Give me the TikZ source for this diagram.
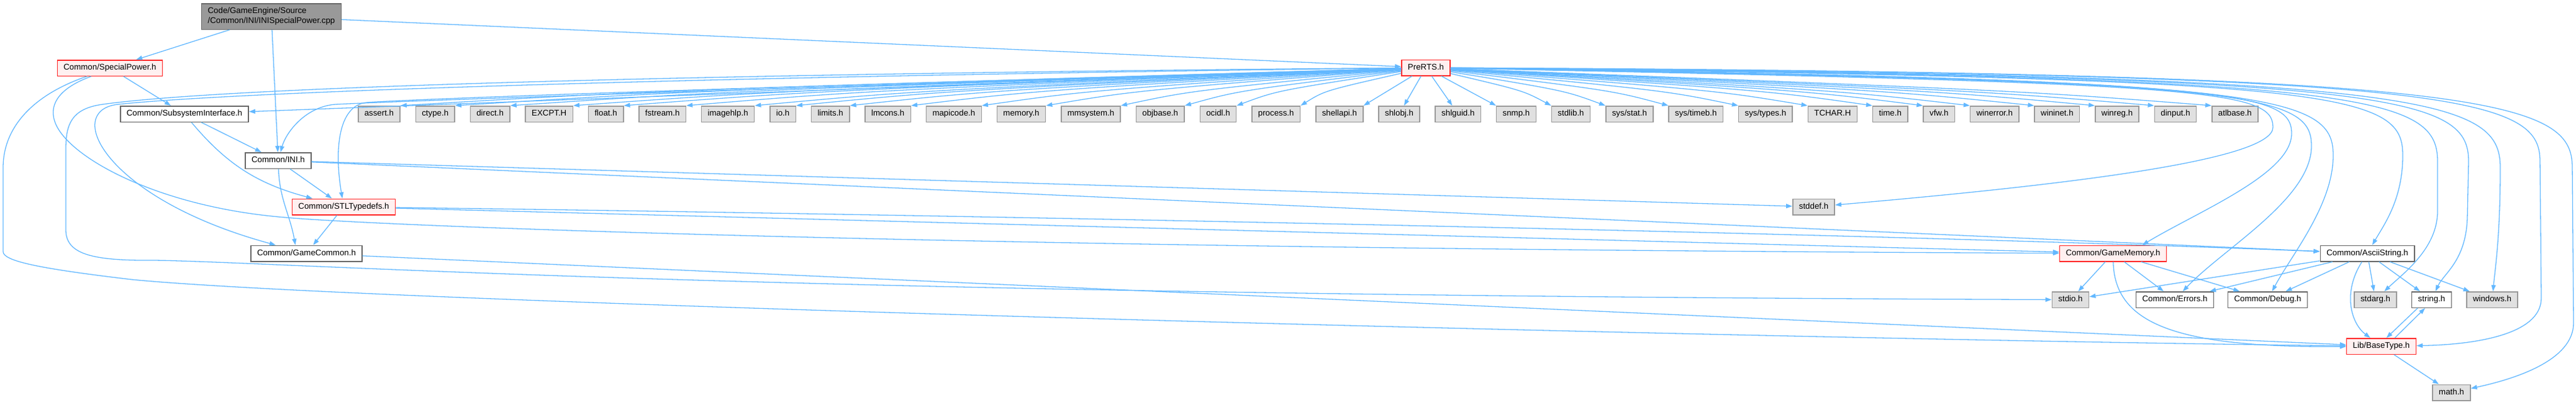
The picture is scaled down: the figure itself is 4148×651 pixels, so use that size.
\documentclass[tikz,border=0pt]{standalone}
\usepackage{fontspec}
\setmainfont{Liberation Sans}
\usetikzlibrary{positioning, arrows.meta}
\definecolor{edgeblue}{HTML}{63B8FF}
\definecolor{mainline}{HTML}{666666}
\definecolor{sysline}{HTML}{999999}
\definecolor{sysfill}{HTML}{E0E0E0}
\definecolor{hotline}{HTML}{FF2626}
\definecolor{hotfill}{HTML}{FFF0F0}
\definecolor{srcfill}{HTML}{999999}

\begin{document}
\begin{tikzpicture}[x=1pt, y=-1pt, node distance={23.7pt}, line width=1.3pt,
		box/.style = {draw, rectangle, line width=1.5pt, inner xsep=10pt, font=\fontsize{13.3}{16}\selectfont},
		main/.style = {box, draw=mainline, fill=white, minimum height=25.5pt, text height=9.6pt, text depth=2.8pt},
		sys/.style = {main, draw=sysline, fill=sysfill},
		hot/.style = {main, draw=hotline, fill=hotfill},
		src/.style = {box, draw=mainline, fill=srcfill, align=left, minimum height=41.5pt},
		dep/.style = {draw=edgeblue, line width=1.3pt, -{Triangle[length=10pt, width=7pt]}}]
		\useasboundingbox (0,0) rectangle (4148,651);
		\node[src] (1) at (437,26.5) {Code/GameEngine/Source\\/Common/INI/INISpecialPower.cpp};
		\node[hot] (2) at (177,109.5) {Common/SpecialPower.h};
		\node[hot] (3) at (2296,109) {PreRTS.h};
		\node[main] (4) at (297,183.5) {Common/SubsystemInterface.h};
		\node[main] (5) at (448,258.5) {Common/INI.h};
		\node[hot] (6) at (553.5,333) {Common/STLTypedefs.h};
		\node[main] (7) at (493.5,408) {Common/GameCommon.h};
		\node[sys] (8) at (2920.5,333) {stddef.h};
		\node[hot] (9) at (3402.5,408) {Common/GameMemory.h};
		\node[main] (10) at (3812,408) {Common/AsciiString.h};
		\node[sys] (11) at (3334,482.5) {stdio.h};
		\node[main] (12) at (3502,482.5) {Common/Errors.h};
		\node[main] (13) at (3651.5,482.5) {Common/Debug.h};
		\node[sys] (14) at (3825,482.5) {stdarg.h};
		\node[main] (15) at (3915.5,482.5) {string.h};
		\node[sys] (16) at (4013,482.5) {windows.h};
		\node[hot] (17) at (3834.5,557.5) {Lib/BaseType.h};
		\node[sys] (18) at (3947.5,632) {math.h};
		\node[sys, anchor=west] (19) at (576,183.5) {assert.h};
		\node[sys] (20) [right=of 19] {ctype.h};
		\node[sys] (21) [right=of 20] {direct.h};
		\node[sys] (22) [right=of 21] {EXCPT.H};
		\node[sys] (23) [right=of 22] {float.h};
		\node[sys] (24) [right=of 23] {fstream.h};
		\node[sys] (25) [right=of 24] {imagehlp.h};
		\node[sys] (26) [right=of 25] {io.h};
		\node[sys] (27) [right=of 26] {limits.h};
		\node[sys] (28) [right=of 27] {lmcons.h};
		\node[sys] (29) [right=of 28] {mapicode.h};
		\node[sys] (30) [right=of 29] {memory.h};
		\node[sys] (31) [right=of 30] {mmsystem.h};
		\node[sys] (32) [right=of 31] {objbase.h};
		\node[sys] (33) [right=of 32] {ocidl.h};
		\node[sys] (34) [right=of 33] {process.h};
		\node[sys] (35) [right=of 34] {shellapi.h};
		\node[sys] (36) [right=of 35] {shlobj.h};
		\node[sys] (37) [right=of 36] {shlguid.h};
		\node[sys] (38) [right=of 37] {snmp.h};
		\node[sys] (39) [right=of 38] {stdlib.h};
		\node[sys] (40) [right=of 39] {sys/stat.h};
		\node[sys] (41) [right=of 40] {sys/timeb.h};
		\node[sys] (42) [right=of 41] {sys/types.h};
		\node[sys] (43) [right=of 42] {TCHAR.H};
		\node[sys] (44) [right=of 43] {time.h};
		\node[sys] (45) [right=of 44] {vfw.h};
		\node[sys] (46) [right=of 45] {winerror.h};
		\node[sys] (47) [right=of 46] {wininet.h};
		\node[sys] (48) [right=of 47] {winreg.h};
		\node[sys] (49) [right=of 48] {dinput.h};
		\node[sys] (50) [right=of 49] {atlbase.h};
		\draw[dep] (1) -- (2);
		\draw[dep] (1) -- (5);
		\draw[dep] (1) -- (3);
		\draw[dep] (2) -- (4);
		\draw[dep] (2.204) .. controls (100,140) and (78,165) .. (88,195) .. controls (105,250) and (250,333) .. (459,350) .. controls (600,363) and (1500,400) .. (9);
		\draw[dep] (2.200) .. controls (60,150) and (5,200) .. (5,270) -- (5,405) .. controls (5,420) and (60,432) .. (212,450) .. controls (600,488) and (2800,545) .. (17);
		\draw[dep] (3) .. controls (1048,146) .. (19.north east);
		\draw[dep] (3) .. controls (1115,146) .. (20.north east);
		\draw[dep] (3) .. controls (1180,146) .. (21.north east);
		\draw[dep] (3) .. controls (1257,146) .. (22.north east);
		\draw[dep] (3) .. controls (1319,146) .. (23.north east);
		\draw[dep] (3) .. controls (1394,146) .. (24.north east);
		\draw[dep] (3) .. controls (1475,146) .. (25.north east);
		\draw[dep] (3) .. controls (1525,146) .. (26.north east);
		\draw[dep] (3) .. controls (1591,146) .. (27.north east);
		\draw[dep] (3) .. controls (1665,146) .. (28.north east);
		\draw[dep] (3) .. controls (1749,146) .. (29.north east);
		\draw[dep] (3) .. controls (1827,146) .. (30.north east);
		\draw[dep] (3) .. controls (1918,146) .. (31.north east);
		\draw[dep] (3) .. controls (1994,146) .. (32.north east);
		\draw[dep] (3) .. controls (2056,146) .. (33.north east);
		\draw[dep] (3) .. controls (2133,146) .. (34.north east);
		\draw[dep] (3) -- (35.north east);
		\draw[dep] (3) -- (36);
		\draw[dep] (3) -- (37);
		\draw[dep] (3) -- (38.north west);
		\draw[dep] (3) .. controls (2453,146) .. (39.north west);
		\draw[dep] (3) .. controls (2520,146) .. (40.north west);
		\draw[dep] (3) .. controls (2597,146) .. (41.north west);
		\draw[dep] (3) .. controls (2682,146) .. (42.north west);
		\draw[dep] (3) .. controls (2766,146) .. (43.north west);
		\draw[dep] (3) .. controls (2846,146) .. (44.north west);
		\draw[dep] (3) .. controls (2906,146) .. (45.north west);
		\draw[dep] (3) .. controls (2964,146) .. (46.north west);
		\draw[dep] (3) .. controls (3041,146) .. (47.north west);
		\draw[dep] (3) .. controls (3114,146) .. (48.north west);
		\draw[dep] (3) .. controls (3185,146) .. (49.north west);
		\draw[dep] (3) .. controls (3254,146) .. (50.north west);
		\draw[dep] (3) -- (4);
		\draw[dep] (3) .. controls (1500,135) and (700,160) .. (540,168) .. controls (490,172) and (460,215) .. (5);
		\draw[dep] (3) .. controls (1500,132) and (700,157) .. (590,165) .. controls (545,170) and (538,240) .. (6);
		\draw[dep] (3) .. controls (1200,122) and (400,146) .. (190,168) .. controls (100,178) and (170,320) .. (7);
		\draw[dep] (3) .. controls (1200,118) and (380,138) .. (165,168) .. controls (115,175) and (106,200) .. (106,240) -- (106,370) .. controls (106,410) and (150,420) .. (250,419) .. controls (500,424) and (1200,475) .. (11);
		\draw[dep] (3) .. controls (3560,134) and (3660,145) .. (3660,205) .. controls (3660,260) and (3300,300) .. (8);
		\draw[dep] (3) .. controls (3590,132) and (3690,145) .. (3690,215) .. controls (3690,280) and (3540,340) .. (9.16);
		\draw[dep] (3) .. controls (3620,130) and (3722,148) .. (3722,235) .. controls (3722,320) and (3580,400) .. (12);
		\draw[dep] (3) .. controls (3650,128) and (3757,150) .. (3757,250) .. controls (3757,330) and (3690,410) .. (13);
		\draw[dep] (3) .. controls (3770,126) and (3869,148) .. (3869,250) .. controls (3869,320) and (3840,360) .. (10);
		\draw[dep] (3) .. controls (3800,124) and (3925,150) .. (3925,260) -- (3925,340) .. controls (3925,400) and (3870,440) .. (14);
		\draw[dep] (3) .. controls (3850,122) and (3975,152) .. (3975,260) -- (3973,350) .. controls (3971,420) and (3935,440) .. (15);
		\draw[dep] (3) .. controls (3900,120) and (4026,155) .. (4026,270) .. controls (4026,380) and (4018,430) .. (16);
		\draw[dep] (3) .. controls (3960,118) and (4090,155) .. (4090,260) -- (4092,480) .. controls (4092,540) and (3980,555) .. (17);
		\draw[dep] (3) .. controls (4010,116) and (4142,160) .. (4142,270) -- (4144,520) .. controls (4144,580) and (4050,610) .. (18);
		\draw[dep] (4) -- (5);
		\draw[dep] (4) to[out=-50, in=165] (6);
		\draw[dep] (5) -- (6);
		\draw[dep] (5) to[out=-88, in=100] (7.143);
		\draw[dep] (5) -- (8);
		\draw[dep] (5) -- (10);
		\draw[dep] (6) -- (7);
		\draw[dep] (6) .. controls (1500,345) and (3000,375) .. (10);
		\draw[dep] (6) -- (9);
		\draw[dep] (7) -- (17);
		\draw[dep] (9) -- (11);
		\draw[dep] (9) -- (12);
		\draw[dep] (9) -- (13);
		\draw[dep] (9) .. controls (3405,520) and (3500,560) .. (17);
		\draw[dep] (10) -- (11);
		\draw[dep] (10) -- (12);
		\draw[dep] (10) -- (13);
		\draw[dep] (10) .. controls (3772,470) and (3785,520) .. (17);
		\draw[dep] (10) -- (14);
		\draw[dep] (10) -- (15);
		\draw[dep] (10) -- (16);
		\draw[dep] (17.32) -- (15.232);
		\draw[dep] (15.211) -- (17.59);
		\draw[dep] (17) -- (18);
	\end{tikzpicture}
\end{document}
